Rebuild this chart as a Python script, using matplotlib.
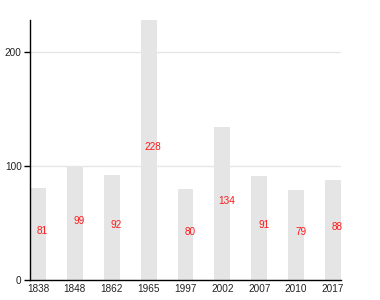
import matplotlib
matplotlib.use("Agg")
import matplotlib.pyplot as plt

categories = ["1838", "1848", "1862", "1965", "1997", "2002", "2007", "2010", "2017"]
values = [81, 99, 92, 228, 80, 134, 91, 79, 88]
yticks = [0, 100, 200]

plt.rcParams['font.family'] = ['Liberation Sans', 'DejaVu Sans']

fig = plt.figure(figsize=(3.8, 3.0), dpi=100)
ax = fig.add_axes([30/380, 20/300, 311/380, 260/300])

x = list(range(len(categories)))
bw = 0.43
ax.bar(x, values, width=bw, color='#e5e5e5', zorder=2)
for xi, v in zip(x, values):
    ax.text(xi + 0.12, v / 2 + 2.5, str(v), color='#ff1a1a', fontsize=7.2,
            ha='center', va='center', zorder=3)

ax.set_xlim(-bw/2, len(categories) - 1 + bw/2)
ax.set_ylim(0, 228)
ax.set_yticks(yticks)
ax.set_xticks(x)
ax.set_xticklabels(categories)
ax.yaxis.grid(True, color='#e6e6e6', linewidth=1, zorder=0)
ax.set_axisbelow(True)
for s in ['top', 'right']:
    ax.spines[s].set_visible(False)
ax.spines['left'].set_linewidth(1)
ax.spines['bottom'].set_linewidth(1)
ax.tick_params(axis='x', length=0, pad=3, labelsize=7.2, colors='#222222')
ax.tick_params(axis='y', length=4, width=1, pad=2, labelsize=7.2, colors='#222222')
ax.tick_params(axis='both', color='black')

fig.savefig("out.png", dpi=100)
